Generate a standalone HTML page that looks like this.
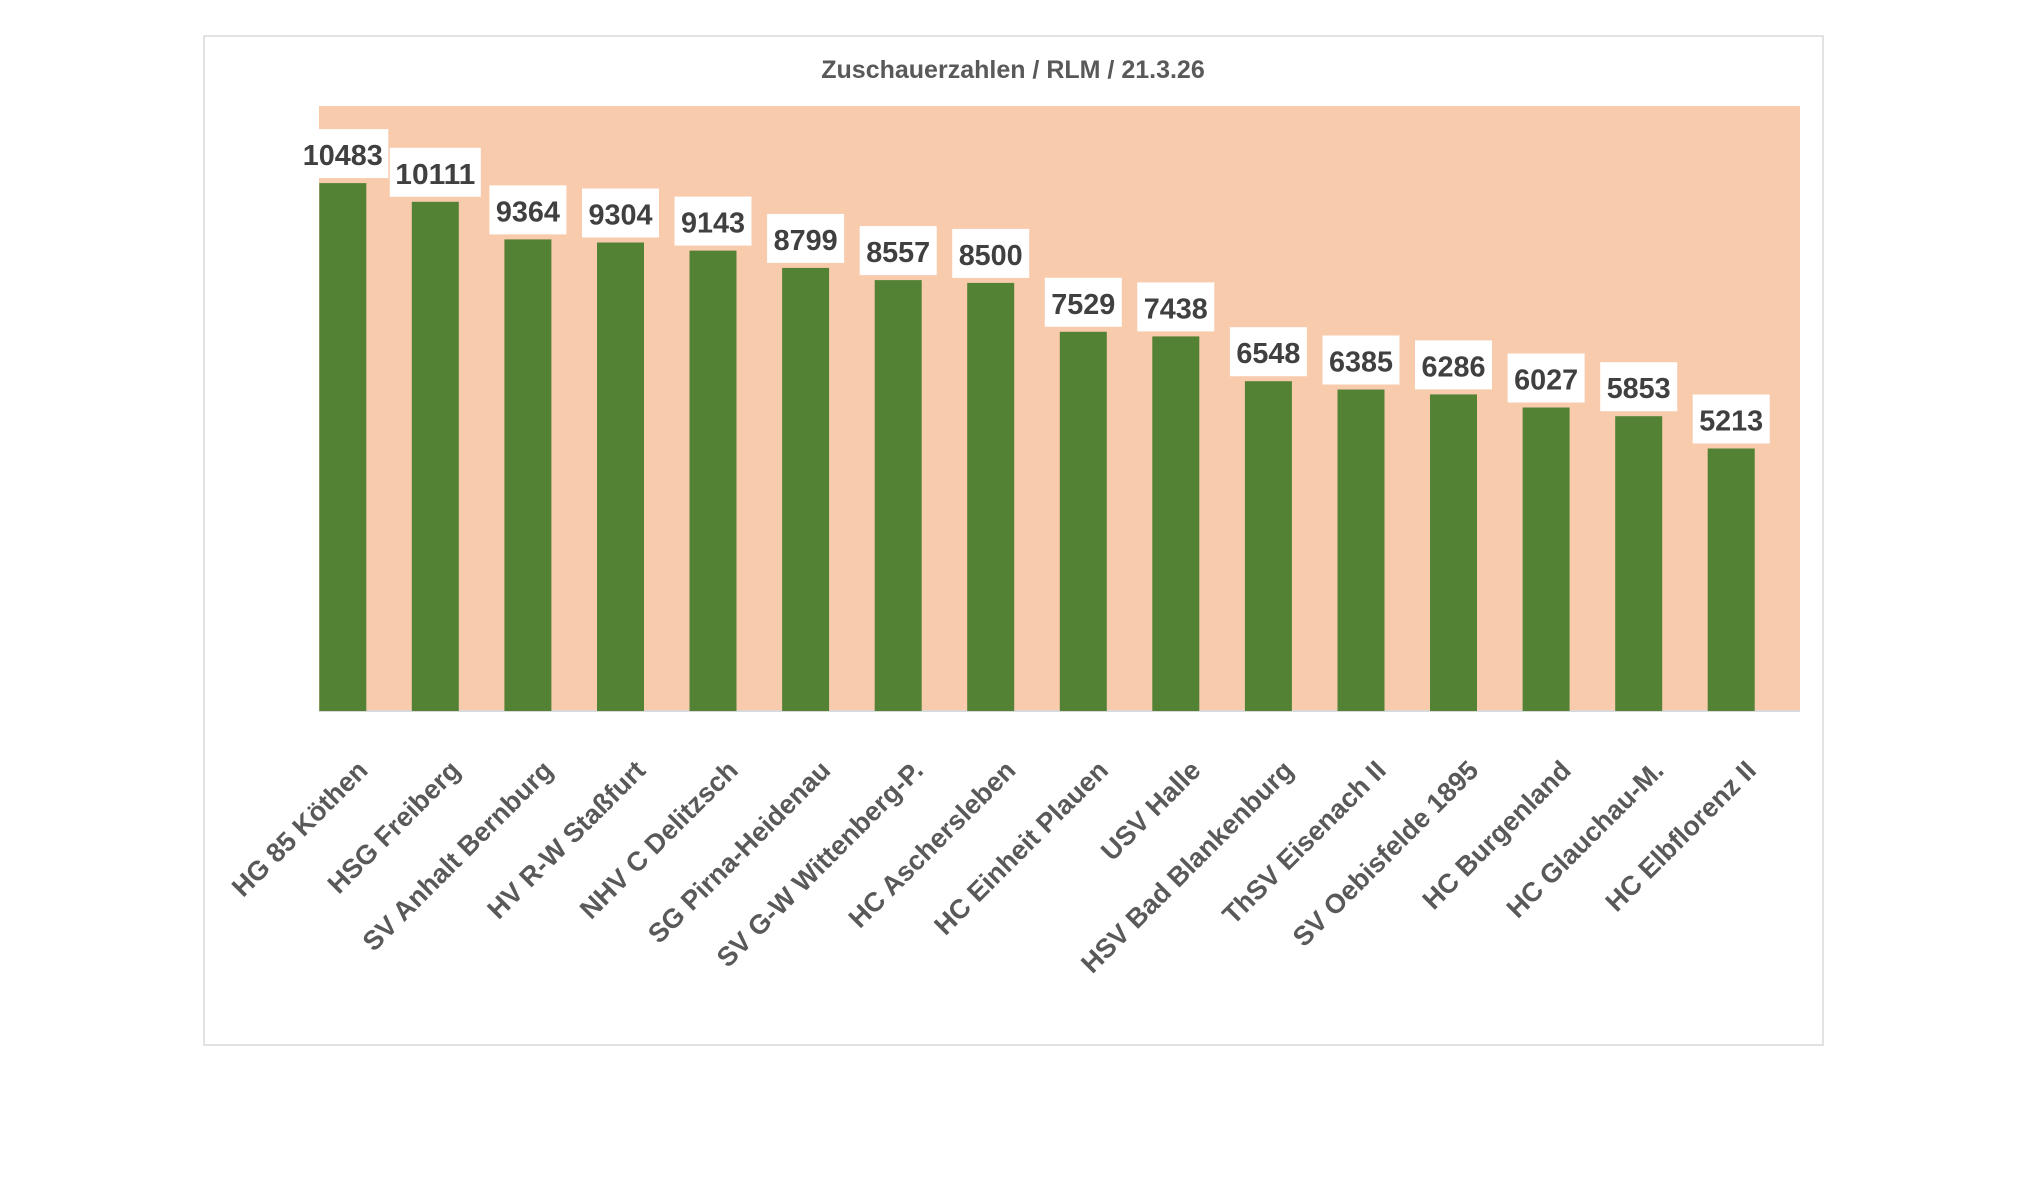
<!DOCTYPE html>
<html><head><meta charset="utf-8"><style>
html,body{margin:0;padding:0;background:#fff;}
svg{display:block;}
</style></head><body>
<svg width="2040" height="1185" viewBox="0 0 2040 1185" xmlns="http://www.w3.org/2000/svg">
<rect x="204" y="36" width="1619" height="1009" fill="#fff" stroke="#d9d9d9" stroke-width="1.5"/>
<text x="1013" y="78" text-anchor="middle" font-family="Liberation Sans, sans-serif" font-weight="bold" font-size="25" fill="#595959">Zuschauerzahlen / RLM / 21.3.26</text>
<rect x="319" y="106" width="1481" height="605" fill="#F8CBAD"/>
<line x1="319" y1="711" x2="1800" y2="711" stroke="#d9d9d9" stroke-width="2"/>
<g transform="translate(-22.5 0)">
<g fill="#548235">
<rect x="341.8" y="183.1" width="47" height="527.9"/>
<rect x="434.3" y="201.8" width="47" height="509.2"/>
<rect x="526.9" y="239.4" width="47" height="471.6"/>
<rect x="619.5" y="242.5" width="47" height="468.5"/>
<rect x="712.0" y="250.6" width="47" height="460.4"/>
<rect x="804.6" y="267.9" width="47" height="443.1"/>
<rect x="897.2" y="280.1" width="47" height="430.9"/>
<rect x="989.7" y="282.9" width="47" height="428.1"/>
<rect x="1082.3" y="331.8" width="47" height="379.2"/>
<rect x="1174.8" y="336.4" width="47" height="374.6"/>
<rect x="1267.4" y="381.2" width="47" height="329.8"/>
<rect x="1360.0" y="389.5" width="47" height="321.5"/>
<rect x="1452.5" y="394.4" width="47" height="316.6"/>
<rect x="1545.1" y="407.5" width="47" height="303.5"/>
<rect x="1637.7" y="416.2" width="47" height="294.8"/>
<rect x="1730.2" y="448.5" width="47" height="262.5"/>
</g>
<g fill="#fff">
<rect x="319.8" y="129.1" width="91" height="49"/>
<rect x="412.3" y="147.8" width="91" height="49"/>
<rect x="511.9" y="185.4" width="77" height="49"/>
<rect x="604.5" y="188.5" width="77" height="49"/>
<rect x="697.0" y="196.6" width="77" height="49"/>
<rect x="789.6" y="213.9" width="77" height="49"/>
<rect x="882.2" y="226.1" width="77" height="49"/>
<rect x="974.7" y="228.9" width="77" height="49"/>
<rect x="1067.3" y="277.8" width="77" height="49"/>
<rect x="1159.8" y="282.4" width="77" height="49"/>
<rect x="1252.4" y="327.2" width="77" height="49"/>
<rect x="1345.0" y="335.5" width="77" height="49"/>
<rect x="1437.5" y="340.4" width="77" height="49"/>
<rect x="1530.1" y="353.5" width="77" height="49"/>
<rect x="1622.7" y="362.2" width="77" height="49"/>
<rect x="1715.2" y="394.5" width="77" height="49"/>
</g>
<g font-family="Liberation Sans, sans-serif" font-weight="bold" font-size="29" fill="#404040" text-anchor="middle">
<text x="365.3" y="165.1" textLength="80" lengthAdjust="spacingAndGlyphs">10483</text>
<text x="457.8" y="183.8" textLength="80" lengthAdjust="spacingAndGlyphs">10111</text>
<text x="550.4" y="221.4" textLength="64" lengthAdjust="spacingAndGlyphs">9364</text>
<text x="643.0" y="224.5" textLength="64" lengthAdjust="spacingAndGlyphs">9304</text>
<text x="735.5" y="232.6" textLength="64" lengthAdjust="spacingAndGlyphs">9143</text>
<text x="828.1" y="249.9" textLength="64" lengthAdjust="spacingAndGlyphs">8799</text>
<text x="920.7" y="262.1" textLength="64" lengthAdjust="spacingAndGlyphs">8557</text>
<text x="1013.2" y="264.9" textLength="64" lengthAdjust="spacingAndGlyphs">8500</text>
<text x="1105.8" y="313.8" textLength="64" lengthAdjust="spacingAndGlyphs">7529</text>
<text x="1198.3" y="318.4" textLength="64" lengthAdjust="spacingAndGlyphs">7438</text>
<text x="1290.9" y="363.2" textLength="64" lengthAdjust="spacingAndGlyphs">6548</text>
<text x="1383.5" y="371.5" textLength="64" lengthAdjust="spacingAndGlyphs">6385</text>
<text x="1476.0" y="376.4" textLength="64" lengthAdjust="spacingAndGlyphs">6286</text>
<text x="1568.6" y="389.5" textLength="64" lengthAdjust="spacingAndGlyphs">6027</text>
<text x="1661.2" y="398.2" textLength="64" lengthAdjust="spacingAndGlyphs">5853</text>
<text x="1753.7" y="430.5" textLength="64" lengthAdjust="spacingAndGlyphs">5213</text>
</g>
</g>
<g transform="translate(8 0)" font-family="Liberation Sans, sans-serif" font-weight="bold" font-size="27" fill="#595959" text-anchor="end">
<text x="361.3" y="772" transform="rotate(-45 361.3 772)">HG 85 Köthen</text>
<text x="453.8" y="772" transform="rotate(-45 453.8 772)">HSG Freiberg</text>
<text x="546.4" y="772" transform="rotate(-45 546.4 772)">SV Anhalt Bernburg</text>
<text x="639.0" y="772" transform="rotate(-45 639.0 772)">HV R-W Staßfurt</text>
<text x="731.5" y="772" transform="rotate(-45 731.5 772)">NHV C Delitzsch</text>
<text x="824.1" y="772" transform="rotate(-45 824.1 772)">SG Pirna-Heidenau</text>
<text x="916.7" y="772" transform="rotate(-45 916.7 772)">SV G-W Wittenberg-P.</text>
<text x="1009.2" y="772" transform="rotate(-45 1009.2 772)">HC Aschersleben</text>
<text x="1101.8" y="772" transform="rotate(-45 1101.8 772)">HC Einheit Plauen</text>
<text x="1194.3" y="772" transform="rotate(-45 1194.3 772)">USV Halle</text>
<text x="1286.9" y="772" transform="rotate(-45 1286.9 772)">HSV Bad Blankenburg</text>
<text x="1379.5" y="772" transform="rotate(-45 1379.5 772)">ThSV Eisenach II</text>
<text x="1472.0" y="772" transform="rotate(-45 1472.0 772)">SV Oebisfelde 1895</text>
<text x="1564.6" y="772" transform="rotate(-45 1564.6 772)">HC Burgenland</text>
<text x="1657.2" y="772" transform="rotate(-45 1657.2 772)">HC Glauchau-M.</text>
<text x="1749.7" y="772" transform="rotate(-45 1749.7 772)">HC Elbflorenz II</text>
</g>
</svg>
</body></html>
